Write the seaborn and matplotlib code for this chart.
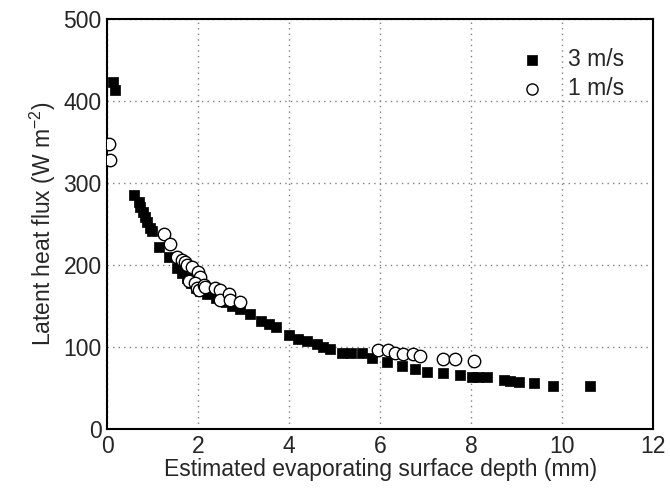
import matplotlib
matplotlib.use("Agg")
import matplotlib.pyplot as plt
import seaborn as sns
import pandas as pd
from matplotlib.ticker import MultipleLocator

# 3 m/s series
x_3ms = [0.12, 0.18, 0.58, 0.69, 0.73, 0.78, 0.84, 0.87, 0.95, 0.98, 1.13, 1.35,
         1.53, 1.64, 1.75, 1.85, 1.95, 2.05, 2.2, 2.4, 2.6, 2.75, 2.92, 3.14,
         3.38, 3.55, 3.7, 3.99, 4.2, 4.4, 4.6, 4.75, 4.9, 5.15, 5.35, 5.6, 5.82,
         6.15, 6.48, 6.77, 7.03, 7.39, 7.76, 8.01, 8.15, 8.34, 8.71, 8.85, 9.04,
         9.37, 9.8, 10.6]
y_3ms = [423, 414, 285, 277, 271, 265, 259, 253, 245, 241, 222, 210,
         196, 190, 184, 178, 172, 168, 165, 160, 155, 150, 147, 140,
         132, 128, 125, 115, 110, 107, 104, 100, 98, 93, 93, 93, 87,
         82, 77, 73, 70, 68, 66, 64, 63, 63, 60, 59, 57,
         56, 53, 52]

# 1 m/s series
x_1ms = [0.03, 0.07, 1.24, 1.38, 1.53, 1.64, 1.71, 1.75, 1.86, 2.0, 2.05, 1.79,
         1.93, 1.97, 2.02, 2.12, 2.15, 2.37, 2.48, 2.48, 2.67, 2.70, 2.92,
         5.96, 6.18, 6.33, 6.51, 6.73, 6.88, 7.39, 7.65, 8.05]
y_1ms = [348, 328, 238, 226, 210, 206, 204, 200, 198, 192, 186, 180,
         178, 172, 170, 176, 173, 172, 170, 157, 165, 158, 155,
         97, 97, 93, 91, 91, 89, 86, 85, 83]

labels = ["3 m/s", "1 m/s"]
x_ticks = [0, 2, 4, 6, 8, 10, 12]
y_ticks = [0, 100, 200, 300, 400, 500]

df3 = pd.DataFrame({"depth": x_3ms, "flux": y_3ms})
df1 = pd.DataFrame({"depth": x_1ms, "flux": y_1ms})

sns.set_style("white")
plt.rcParams["font.family"] = ["Liberation Sans", "DejaVu Sans"]
plt.rcParams["mathtext.fontset"] = "custom"
plt.rcParams["mathtext.rm"] = "Liberation Sans"
plt.rcParams["mathtext.it"] = "Liberation Sans"

FS = 16.5

fig = plt.figure(figsize=(6.7, 4.92), dpi=100)
ax = fig.add_axes([0.160, 0.128, 0.815, 0.833])

sns.scatterplot(data=df3, x="depth", y="flux", ax=ax, marker="s", s=55,
                color="black", edgecolor="black", linewidth=0.5,
                label=labels[0], zorder=3)
sns.scatterplot(data=df1, x="depth", y="flux", ax=ax, marker="o", s=80,
                color="white", edgecolor="black", linewidth=1.0,
                label=labels[1], zorder=4)

ax.set_xlim(0, 12)
ax.set_ylim(0, 500)
ax.set_xticks(x_ticks)
ax.set_yticks(y_ticks)
ax.xaxis.set_minor_locator(MultipleLocator(1))
ax.yaxis.set_minor_locator(MultipleLocator(50))
ax.tick_params(axis="both", which="major", direction="in", length=7, width=1.2,
               labelsize=FS, top=False, right=False, pad=4)
ax.tick_params(axis="both", which="minor", direction="in", length=5, width=1.2,
               top=False, right=False)
ax.grid(True, which="major", linestyle=(0, (1, 3)), color="gray", linewidth=1.0)
ax.set_axisbelow(True)
for sp in ax.spines.values():
    sp.set_linewidth(1.5)
    sp.set_color("black")

ax.set_xlabel("Estimated evaporating surface depth (mm)", fontsize=FS, labelpad=0)
ax.set_ylabel("Latent heat flux (W m$^{-2}$)", fontsize=FS, labelpad=4)

leg = ax.legend(loc="upper right", frameon=False, fontsize=FS,
                bbox_to_anchor=(0.985, 0.98), handletextpad=0.6,
                labelspacing=0.25, markerscale=0.9)

fig.savefig("out.png", dpi=100)
